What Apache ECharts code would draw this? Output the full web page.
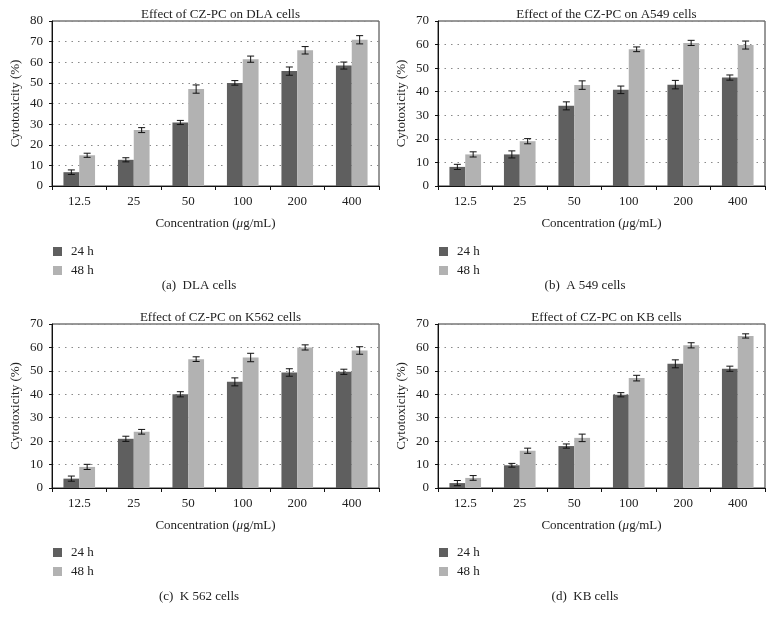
<!DOCTYPE html>
<html>
<head>
<meta charset="utf-8">
<script src="https://cdn.jsdelivr.net/npm/echarts@6/dist/echarts.min.js"></script>
<style>html,body{margin:0;padding:0;background:#fff}#c{width:773px;height:621px}</style>
</head>
<body>
<div id="c"></div>
<script>
const categories = ['12.5', '25', '50', '100', '200', '400'];
const seriesNames = ['24 h', '48 h'];

const dla24 = [6.7, 12.7, 30.8, 50.0, 55.7, 58.4];
const dla24Err = [1.1, 1.0, 1.0, 1.1, 2.0, 1.7];
const dla48 = [14.9, 27.1, 47.0, 61.5, 65.8, 70.9];
const dla48Err = [1.0, 1.2, 2.0, 1.5, 1.8, 2.0];

const a549_24 = [8.1, 13.4, 34.0, 40.8, 43.0, 46.0];
const a549_24Err = [1.1, 1.5, 1.7, 1.6, 1.8, 1.1];
const a549_48 = [13.4, 19.0, 42.8, 58.0, 60.7, 59.8];
const a549_48Err = [1.1, 1.1, 1.8, 1.0, 1.1, 1.7];

const k562_24 = [4.0, 21.0, 40.0, 45.3, 49.3, 49.6];
const k562_24Err = [1.1, 1.1, 1.1, 1.7, 1.6, 1.1];
const k562_48 = [9.0, 24.0, 55.0, 55.7, 60.0, 58.7];
const k562_48Err = [1.1, 1.0, 1.0, 1.8, 1.1, 1.6];

const kb24 = [2.1, 9.7, 17.9, 39.8, 53.0, 50.9];
const kb24Err = [1.1, 0.8, 0.9, 0.9, 1.7, 1.1];
const kb48 = [4.3, 15.9, 21.4, 46.9, 60.9, 64.9];
const kb48Err = [1.0, 1.1, 1.6, 1.2, 1.1, 0.9];

const titles = ['Effect of CZ-PC on DLA cells', 'Effect of the CZ-PC on A549 cells', 'Effect of CZ-PC on K562 cells', 'Effect of CZ-PC on KB cells'];
const captions = ['(a)  DLA cells', '(b)  A 549 cells', '(c)  K 562 cells', '(d)  KB cells'];
const yMax = [80, 70, 70, 70];
const yTicks = [10, 10, 10, 10];
const xAxisName = '{n|Concentration (}{i|\u03bc}{n|g/mL)}';
const yAxisName = 'Cytotoxicity (%)';

const panelData = [
  [dla24, dla24Err, dla48, dla48Err],
  [a549_24, a549_24Err, a549_48, a549_48Err],
  [k562_24, k562_24Err, k562_48, k562_48Err],
  [kb24, kb24Err, kb48, kb48Err]
];

const FONT = '"Liberation Serif", "DejaVu Serif", serif';
const DARK = '#5f5f5f';
const LIGHT = '#b2b2b2';
const BAR_FRAC = 0.29;

const layout = [
  { left: 52, top: 21, width: 327, height: 165, ox: 0, legTop: 240, capTop: 274 },
  { left: 438, top: 21, width: 327, height: 165, ox: 386, legTop: 240, capTop: 274 },
  { left: 52, top: 324, width: 327, height: 164, ox: 0, legTop: 541, capTop: 585 },
  { left: 438, top: 324, width: 327, height: 164, ox: 386, legTop: 541, capTop: 585 }
];

const grid = [], xAxis = [], yAxis = [], series = [], title = [], legend = [];

function errRender(offset) {
  return function (params, api) {
    const idx = api.value(0);
    const v = api.value(1);
    const e = api.value(2);
    const band = api.size([1, 0])[0];
    const c = api.coord([idx, v]);
    const x = c[0] + offset * band * BAR_FRAC;
    const yHi = api.coord([idx, v + e])[1];
    const yLo = api.coord([idx, v - e])[1];
    const cap = 3.5;
    const st = { stroke: '#111', lineWidth: 1 };
    return {
      type: 'group',
      children: [
        { type: 'line', shape: { x1: x, y1: yHi, x2: x, y2: yLo }, style: st },
        { type: 'line', shape: { x1: x - cap, y1: yHi, x2: x + cap, y2: yHi }, style: st },
        { type: 'line', shape: { x1: x - cap, y1: yLo, x2: x + cap, y2: yLo }, style: st }
      ]
    };
  };
}

layout.forEach((L, i) => {
  grid.push({
    left: L.left, top: L.top, width: L.width, height: L.height,
    show: true, borderColor: '#333', borderWidth: 1, backgroundColor: 'transparent'
  });
  xAxis.push({
    type: 'category', gridIndex: i, data: categories,
    axisLine: { lineStyle: { color: '#111', width: 1 } },
    axisTick: { show: true, length: 4, inside: false, lineStyle: { color: '#111' } },
    axisLabel: { color: '#222', fontFamily: FONT, fontSize: 13, margin: 9 },
    name: xAxisName, nameLocation: 'middle', nameGap: 31,
    nameTextStyle: {
      color: '#222', fontFamily: FONT, fontSize: 13,
      rich: {
        n: { fontFamily: FONT, fontSize: 13, color: '#222' },
        i: { fontFamily: FONT, fontSize: 13, color: '#222', fontStyle: 'italic' }
      }
    },
    splitLine: { show: false }
  });
  yAxis.push({
    type: 'value', gridIndex: i, min: 0, max: yMax[i], interval: yTicks[i],
    axisLine: { show: true, lineStyle: { color: '#111', width: 1 } },
    axisTick: { show: true, length: 3, lineStyle: { color: '#111' } },
    axisLabel: { color: '#222', fontFamily: FONT, fontSize: 13, margin: 9 },
    name: yAxisName, nameLocation: 'middle', nameGap: 30, nameRotate: 90,
    nameTextStyle: { color: '#222', fontFamily: FONT, fontSize: 13 },
    splitLine: { show: true, lineStyle: { color: '#8a8a8a', width: 1, type: [1.5, 5] } }
  });
  const d = panelData[i];
  series.push({
    name: seriesNames[0], type: 'bar', xAxisIndex: i, yAxisIndex: i,
    data: d[0], barWidth: (BAR_FRAC * 100) + '%', barGap: '0%',
    itemStyle: { color: DARK }, emphasis: { disabled: true }, animation: false
  });
  series.push({
    name: seriesNames[1], type: 'bar', xAxisIndex: i, yAxisIndex: i,
    data: d[2], barWidth: (BAR_FRAC * 100) + '%', barGap: '0%',
    itemStyle: { color: LIGHT }, emphasis: { disabled: true }, animation: false
  });
  series.push({
    type: 'custom', xAxisIndex: i, yAxisIndex: i, z: 5,
    renderItem: errRender(-0.5),
    data: d[0].map((v, k) => [k, v, d[1][k]]), animation: false
  });
  series.push({
    type: 'custom', xAxisIndex: i, yAxisIndex: i, z: 5,
    renderItem: errRender(0.5),
    data: d[2].map((v, k) => [k, v, d[3][k]]), animation: false
  });
  title.push({
    text: titles[i], left: L.left + L.width / 2, top: L.top - 18, textAlign: 'center',
    textStyle: { fontFamily: FONT, fontSize: 13, fontWeight: 'normal', color: '#222' }
  });
  title.push({
    text: captions[i], left: L.ox + 194, top: L.capTop, textAlign: 'center',
    textStyle: { fontFamily: FONT, fontSize: 13, fontWeight: 'normal', color: '#222' }
  });
  legend.push({
    data: seriesNames, orient: 'vertical', left: L.ox + 48, top: L.legTop,
    itemWidth: 9, itemHeight: 9, itemGap: 6, icon: 'rect', selectedMode: false,
    textStyle: { fontFamily: FONT, fontSize: 13, color: '#222', padding: [0, 0, 0, 4] }
  });
});

const chart = echarts.init(document.getElementById('c'), null, { renderer: 'canvas' });
chart.setOption({ backgroundColor: '#fff', animation: false, title, legend, grid, xAxis, yAxis, series });
</script>
</body>
</html>
